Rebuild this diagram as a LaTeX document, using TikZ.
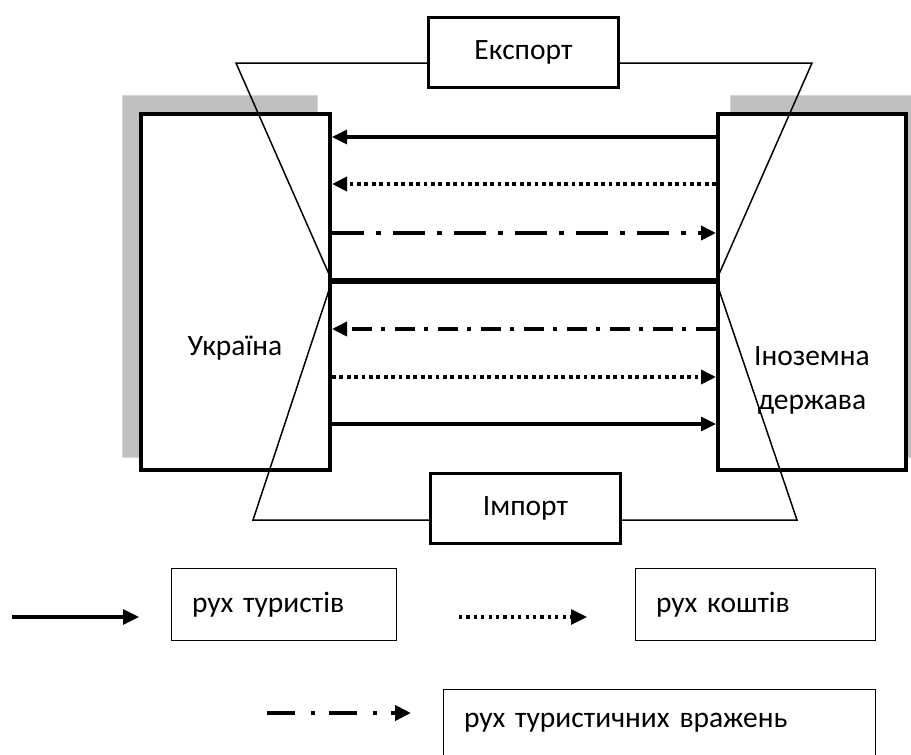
\documentclass[tikz,border=0pt]{standalone}
\usepackage{fontspec}
\setmainfont{Carlito}
\usetikzlibrary{arrows.meta}
\definecolor{shade}{HTML}{C0C0C0}
\definecolor{shadeedge}{HTML}{D6D6D6}
\tikzset{
  country/.style={draw, line width=4pt, fill=white, minimum width=189pt,
    minimum height=356pt, inner sep=0pt},
  flowbox/.style={draw, line width=3pt, fill=white, minimum width=190pt,
    minimum height=70pt, inner sep=0pt},
  keybox/.style={draw, line width=1.4pt, inner sep=0pt, align=left},
  shadowrect/.style={fill=shade, draw=shadeedge, line width=1pt},
  frameline/.style={line width=1.5pt, line join=miter},
  tip/.style={-{Triangle[length=15pt,width=14pt]}},
  tourists/.style={tip, line width=3.2pt},
  money/.style={tip, line width=3.6pt, dash pattern=on 3.8pt off 3.6pt},
  impress/.style={tip, line width=3.6pt, dash pattern=on 32pt off 12pt on 5pt off 12pt},
  impressdense/.style={tip, line width=3.6pt, dash pattern=on 20pt off 10pt on 4pt off 9pt},
  keytip/.style={-{Triangle[length=16pt,width=15pt]}},
}
\begin{document}
\begin{tikzpicture}[x=1pt, y=-1pt, font=\fontsize{29.5}{44}\selectfont]
\useasboundingbox (0,0) rectangle (911,755);

% grey shadows behind the two country boxes
\begin{scope}
  \clip (0,0) rectangle (911,755);
  \draw[shadowrect] (122,95) rectangle (317,457);
  \draw[shadowrect] (730,95) rectangle (925,457);
\end{scope}

% the two countries
\node[country] (ukr) at (235.5,292) {};
\node[country, minimum width=188pt] (frn) at (812,292) {};
\node (ukrlabel) at (235,348) {Україна};
\node[align=center] (frnlabel) at (812,380) {Іноземна\\держава};

% export / import boxes
\node[flowbox] (exp) at (523.5,52) {Експорт};
\node[flowbox] (imp) at (525.5,508.5) {Імпорт};

% corners of the crossed frame
\coordinate (tl) at (236,63);
\coordinate (tr) at (812,63);
\coordinate (bl) at (253,520);
\coordinate (br) at (797,520);
\coordinate (cl) at (ukr.east |- 0,281);
\coordinate (cr) at (frn.west |- 0,281);

\draw[frameline] (exp.west |- tl) -- (tl) -- (cl) -- (bl) -- (imp.west |- bl);
\draw[frameline] (exp.east |- tr) -- (tr) -- (cr) -- (br) -- (imp.east |- br);

% border between export and import flows
\draw[line width=6.5pt] (cl) -- (cr);

% export flows
\draw[tourists] (frn.west |- 0,137) -- (ukr.east |- 0,137);
\draw[money] (frn.west |- 0,184) -- (ukr.east |- 0,184);
\draw[impress] (ukr.east |- 0,233) -- (frn.west |- 0,233);

% import flows
\draw[impressdense] (frn.west |- 0,329) -- (ukr.east |- 0,329);
\draw[money] (ukr.east |- 0,377) -- (frn.west |- 0,377);
\draw[tourists] (ukr.east |- 0,424) -- (frn.west |- 0,424);

% legend
\node[keybox, minimum width=224.7pt, minimum height=71.7pt, text width=184pt]
  (k1) at (284,604.5) {рух туристів};
\node[keybox, minimum width=239.7pt, minimum height=71.7pt, text width=199pt]
  (k2) at (755.5,604.5) {рух коштів};
\node[keybox, minimum width=431.7pt, minimum height=66.7pt, text width=391pt]
  (k3) at (659.5,723) {рух туристичних вражень};

\coordinate (a1) at (12,617);  \coordinate (b1) at (139,617);
\coordinate (a2) at (459,617); \coordinate (b2) at (587,617);
\coordinate (a3) at (267,713); \coordinate (b3) at (411,713);

\draw[keytip, line width=3.2pt] (a1) -- (b1);
\draw[keytip, line width=3.2pt, dash pattern=on 3.2pt off 4.2pt] (a2) -- (b2);
\draw[keytip, line width=4pt, dash pattern=on 28pt off 16pt on 4pt off 14pt] (a3) -- (b3);
\end{tikzpicture}
\end{document}
